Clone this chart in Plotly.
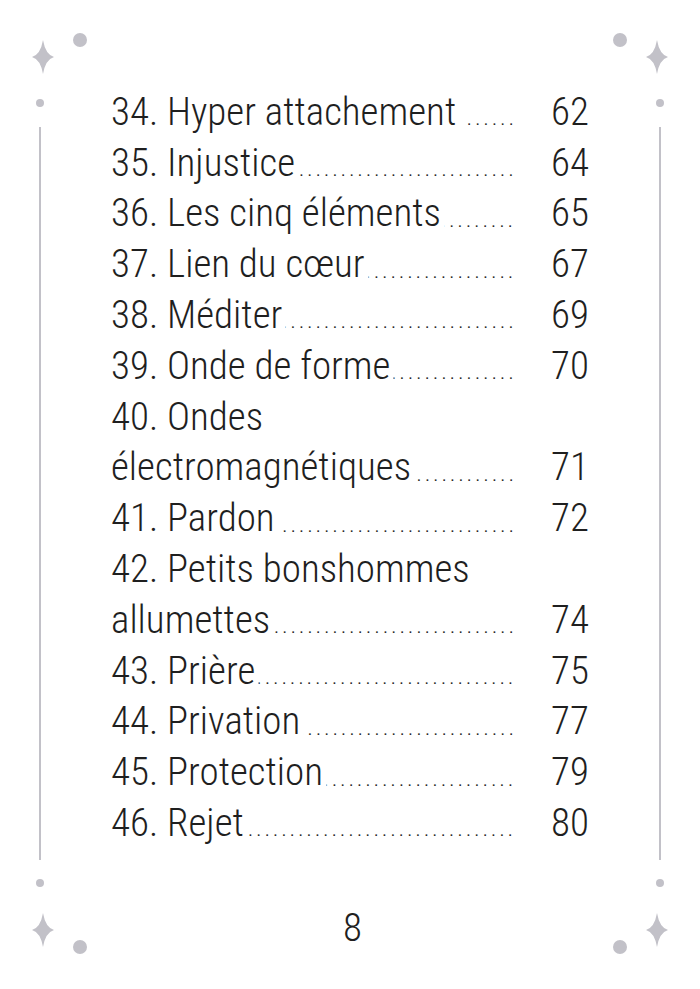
import plotly.graph_objects as go

# table of contents, page 8
numbers = [34, 35, 36, 37, 38, 39, 40, 41, 42, 43, 44, 45, 46]
titles = [
    "Hyper attachement",
    "Injustice",
    "Les cinq éléments",
    "Lien du cœur",
    "Méditer",
    "Onde de forme",
    "Ondes\nélectromagnétiques",
    "Pardon",
    "Petits bonshommes\nallumettes",
    "Prière",
    "Privation",
    "Protection",
    "Rejet",
]
pages = [62, 64, 65, 67, 69, 70, 71, 72, 74, 75, 77, 79, 80]
page_number = "8"

# how many leader dots each entry gets
leader_dots = [6, 29, 9, 20, 29, 16, 14, 32, 32, 33, 27, 25, 35]

W, H = 700, 989
OFF = 8  # the page body keeps an 8px margin, the figure starts there
FONT = "Noto Sans Condensed Light, Noto Sans Condensed, Roboto Condensed, Roboto"
INK = "#1f1f1f"
DECO = "#c2c1c8"

TEXT_SIZE = 39
DOT_SIZE = 17
LEFT_X = 107
DOTS_END_X = 515
PAGE_X = 591
FIRST_BASELINE = 126
ROW_STEP = 50.8


def bottom_y(baseline, size, pad):
    # annotation box bottom sits under the baseline by the font descent + pad
    return baseline + 0.25 * size + pad


fig = go.Figure()
annotations = []

row = 0
for num, title, page, n_dots in zip(numbers, titles, pages, leader_dots):
    lines = title.split("\n")
    for i, line in enumerate(lines):
        base = FIRST_BASELINE + row * ROW_STEP
        label = f"{num}. {line}" if i == 0 else line
        last = i == len(lines) - 1
        if last:
            annotations.append(dict(
                x=DOTS_END_X, y=bottom_y(base, DOT_SIZE, 1), xanchor="right", yanchor="bottom",
                text=" ".join(["."] * n_dots), showarrow=False,
                font=dict(family=FONT, size=DOT_SIZE, color=INK)))
        annotations.append(dict(
            x=LEFT_X, y=bottom_y(base, TEXT_SIZE, 3), xanchor="left", yanchor="bottom",
            text=label, showarrow=False, bgcolor="white", borderpad=3,
            font=dict(family=FONT, size=TEXT_SIZE, color=INK, weight=300)))
        if last:
            annotations.append(dict(
                x=PAGE_X, y=bottom_y(base, TEXT_SIZE, 1), xanchor="right", yanchor="bottom",
                text=str(page), showarrow=False,
                font=dict(family=FONT, size=TEXT_SIZE, color=INK, weight=300)))
        row += 1

annotations.append(dict(
    x=352, y=bottom_y(942, TEXT_SIZE, 1), xanchor="center", yanchor="bottom",
    text=page_number, showarrow=False,
    font=dict(family=FONT, size=TEXT_SIZE, color=INK, weight=300)))


def star(cx, cy, w=11, h=17, k=2.5):
    return (f"M {cx},{cy - h} Q {cx + k},{cy - k} {cx + w},{cy} "
            f"Q {cx + k},{cy + k} {cx},{cy + h} Q {cx - k},{cy + k} {cx - w},{cy} "
            f"Q {cx - k},{cy - k} {cx},{cy - h} Z")


def dot(cx, cy, r):
    return dict(type="circle", x0=cx - r, x1=cx + r, y0=cy - r, y1=cy + r,
                fillcolor=DECO, line=dict(width=0), layer="above")


shapes = []
for sx, dx, cx in [(43, 40, 80), (657, 660, 620)]:
    shapes.append(dict(type="path", path=star(sx, 57), fillcolor=DECO, line=dict(width=0)))
    shapes.append(dict(type="path", path=star(sx, 930), fillcolor=DECO, line=dict(width=0)))
    shapes.append(dot(cx, 40, 7))
    shapes.append(dot(cx, 947, 7))
    shapes.append(dot(dx, 103, 4))
    shapes.append(dot(dx, 883, 4))
    shapes.append(dict(type="line", x0=dx, x1=dx, y0=127, y1=860,
                       line=dict(color=DECO, width=2)))

fig.update_layout(
    width=W - OFF, height=H - OFF,
    margin=dict(l=0, r=0, t=0, b=0),
    paper_bgcolor="white", plot_bgcolor="white",
    xaxis=dict(range=[OFF, W], visible=False, fixedrange=True),
    yaxis=dict(range=[H, OFF], visible=False, fixedrange=True),
    showlegend=False,
    annotations=annotations,
    shapes=shapes,
)

fig.write_html("out.html")
